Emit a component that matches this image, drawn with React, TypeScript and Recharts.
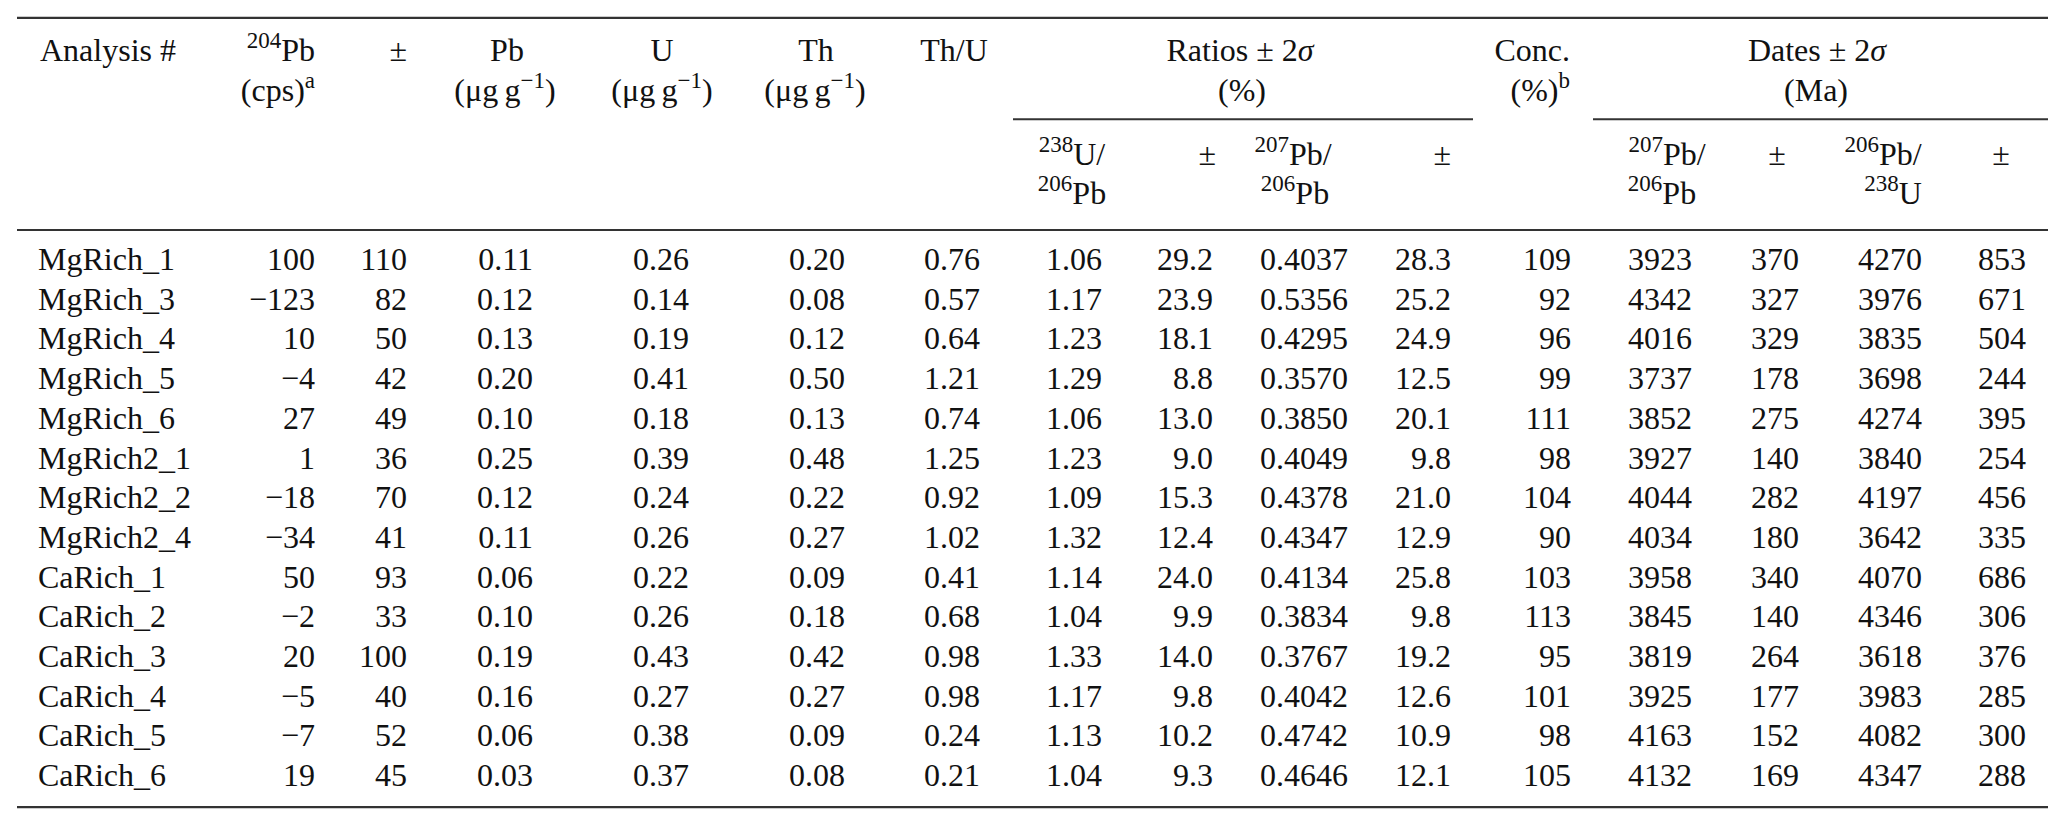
import { ScatterChart, Scatter, XAxis, YAxis, ReferenceLine } from 'recharts';

// table values, one list per column
const analyses = ['MgRich_1', 'MgRich_3', 'MgRich_4', 'MgRich_5', 'MgRich_6', 'MgRich2_1', 'MgRich2_2', 'MgRich2_4', 'CaRich_1', 'CaRich_2', 'CaRich_3', 'CaRich_4', 'CaRich_5', 'CaRich_6'];
const pb204Cps = [100, -123, 10, -4, 27, 1, -18, -34, 50, -2, 20, -5, -7, 19];
const pb204Err = [110, 82, 50, 42, 49, 36, 70, 41, 93, 33, 100, 40, 52, 45];
const pbConc = [0.11, 0.12, 0.13, 0.2, 0.1, 0.25, 0.12, 0.11, 0.06, 0.1, 0.19, 0.16, 0.06, 0.03];
const uConc = [0.26, 0.14, 0.19, 0.41, 0.18, 0.39, 0.24, 0.26, 0.22, 0.26, 0.43, 0.27, 0.38, 0.37];
const thConc = [0.2, 0.08, 0.12, 0.5, 0.13, 0.48, 0.22, 0.27, 0.09, 0.18, 0.42, 0.27, 0.09, 0.08];
const thU = [0.76, 0.57, 0.64, 1.21, 0.74, 1.25, 0.92, 1.02, 0.41, 0.68, 0.98, 0.98, 0.24, 0.21];
const u238Pb206 = [1.06, 1.17, 1.23, 1.29, 1.06, 1.23, 1.09, 1.32, 1.14, 1.04, 1.33, 1.17, 1.13, 1.04];
const u238Pb206Err = [29.2, 23.9, 18.1, 8.8, 13.0, 9.0, 15.3, 12.4, 24.0, 9.9, 14.0, 9.8, 10.2, 9.3];
const pb207Pb206 = [0.4037, 0.5356, 0.4295, 0.357, 0.385, 0.4049, 0.4378, 0.4347, 0.4134, 0.3834, 0.3767, 0.4042, 0.4742, 0.4646];
const pb207Pb206Err = [28.3, 25.2, 24.9, 12.5, 20.1, 9.8, 21.0, 12.9, 25.8, 9.8, 19.2, 12.6, 10.9, 12.1];
const concordance = [109, 92, 96, 99, 111, 98, 104, 90, 103, 113, 95, 101, 98, 105];
const date76 = [3923, 4342, 4016, 3737, 3852, 3927, 4044, 4034, 3958, 3845, 3819, 3925, 4163, 4132];
const date76Err = [370, 327, 329, 178, 275, 140, 282, 180, 340, 140, 264, 177, 152, 169];
const date68 = [4270, 3976, 3835, 3698, 4274, 3840, 4197, 3642, 4070, 4346, 3618, 3983, 4082, 4347];
const date68Err = [853, 671, 504, 244, 395, 254, 456, 335, 686, 306, 376, 285, 300, 288];

// layout
const W = 2067;
const H = 827;
const ROW_H = 39.7;
const FIRST_BASELINE = 270;
const Y_DOMAIN = [-FIRST_BASELINE / ROW_H, (H - FIRST_BASELINE) / ROW_H];
const FONT = '"Liberation Serif", "Times New Roman", serif';
const INK = '#111';
const RULE = '#333';

const L1 = -5.27;
const L2 = -4.26;
const L3 = -2.65;
const L4 = -1.67;

type Anchor = 'start' | 'middle' | 'end';

const columns: { values: (string | number)[]; x: number; anchor: Anchor; digits: number | null }[] = [
  { values: analyses, x: 38, anchor: 'start', digits: null },
  { values: pb204Cps, x: 315, anchor: 'end', digits: 0 },
  { values: pb204Err, x: 407, anchor: 'end', digits: 0 },
  { values: pbConc, x: 533, anchor: 'end', digits: 2 },
  { values: uConc, x: 689, anchor: 'end', digits: 2 },
  { values: thConc, x: 845, anchor: 'end', digits: 2 },
  { values: thU, x: 980, anchor: 'end', digits: 2 },
  { values: u238Pb206, x: 1102, anchor: 'end', digits: 2 },
  { values: u238Pb206Err, x: 1213, anchor: 'end', digits: 1 },
  { values: pb207Pb206, x: 1348, anchor: 'end', digits: 4 },
  { values: pb207Pb206Err, x: 1451, anchor: 'end', digits: 1 },
  { values: concordance, x: 1571, anchor: 'end', digits: 0 },
  { values: date76, x: 1692, anchor: 'end', digits: 0 },
  { values: date76Err, x: 1799, anchor: 'end', digits: 0 },
  { values: date68, x: 1922, anchor: 'end', digits: 0 },
  { values: date68Err, x: 2026, anchor: 'end', digits: 0 },
];

type Part = { t: string; sup?: boolean; it?: boolean };
const P = (t: string): Part => ({ t });
const S = (t: string): Part => ({ t, sup: true });
const I = (t: string): Part => ({ t, it: true });
const unit = [P('(μg\u2009g'), S('−1'), P(')')];

const headers: { x: number; y: number; anchor: Anchor; parts: Part[] }[] = [
  { x: 40, y: L1, anchor: 'start', parts: [P('Analysis #')] },
  { x: 315, y: L1, anchor: 'end', parts: [S('204'), P('Pb')] },
  { x: 315, y: L2, anchor: 'end', parts: [P('(cps)'), S('a')] },
  { x: 407, y: L1, anchor: 'end', parts: [P('±')] },
  { x: 507, y: L1, anchor: 'middle', parts: [P('Pb')] },
  { x: 505, y: L2, anchor: 'middle', parts: unit },
  { x: 662, y: L1, anchor: 'middle', parts: [P('U')] },
  { x: 662, y: L2, anchor: 'middle', parts: unit },
  { x: 816, y: L1, anchor: 'middle', parts: [P('Th')] },
  { x: 815, y: L2, anchor: 'middle', parts: unit },
  { x: 954, y: L1, anchor: 'middle', parts: [P('Th/U')] },
  { x: 1240, y: L1, anchor: 'middle', parts: [P('Ratios ± 2'), I('σ')] },
  { x: 1242, y: L2, anchor: 'middle', parts: [P('(%)')] },
  { x: 1570, y: L1, anchor: 'end', parts: [P('Conc.')] },
  { x: 1570, y: L2, anchor: 'end', parts: [P('(%)'), S('b')] },
  { x: 1817, y: L1, anchor: 'middle', parts: [P('Dates ± 2'), I('σ')] },
  { x: 1816, y: L2, anchor: 'middle', parts: [P('(Ma)')] },
  { x: 1072, y: L3, anchor: 'middle', parts: [S('238'), P('U/')] },
  { x: 1072, y: L4, anchor: 'middle', parts: [S('206'), P('Pb')] },
  { x: 1216, y: L3, anchor: 'end', parts: [P('±')] },
  { x: 1293, y: L3, anchor: 'middle', parts: [S('207'), P('Pb/')] },
  { x: 1295, y: L4, anchor: 'middle', parts: [S('206'), P('Pb')] },
  { x: 1451, y: L3, anchor: 'end', parts: [P('±')] },
  { x: 1667, y: L3, anchor: 'middle', parts: [S('207'), P('Pb/')] },
  { x: 1662, y: L4, anchor: 'middle', parts: [S('206'), P('Pb')] },
  { x: 1777, y: L3, anchor: 'middle', parts: [P('±')] },
  { x: 1883, y: L3, anchor: 'middle', parts: [S('206'), P('Pb/')] },
  { x: 1893, y: L4, anchor: 'middle', parts: [S('238'), P('U')] },
  { x: 2001, y: L3, anchor: 'middle', parts: [P('±')] },
];

const rules = [
  { y: -6.35, x1: 17, x2: 2048, w: 2.4 },
  { y: -3.8, x1: 1013, x2: 1473, w: 2 },
  { y: -3.8, x1: 1593, x2: 2048, w: 2 },
  { y: -1.01, x1: 17, x2: 2048, w: 2 },
  { y: 13.53, x1: 17, x2: 2048, w: 2.4 },
];

const fmt = (v: string | number, digits: number | null) =>
  typeof v === 'string' || digits === null ? String(v) : v.toFixed(digits).replace('-', '−');

const renderCell = (props: any) => {
  const { cx, cy, payload } = props;
  return (
    <text x={cx} y={cy} textAnchor={payload.anchor} fontFamily={FONT} fontSize={32} fill={INK}>
      {payload.label}
    </text>
  );
};

const renderHeader = (props: any) => {
  const { cx, cy, payload } = props;
  let raised = false;
  return (
    <text x={cx} y={cy} textAnchor={payload.anchor} fontFamily={FONT} fontSize={32} fill={INK}>
      {payload.parts.map((p: Part, i: number) => {
        let dy = 0;
        if (p.sup && !raised) { dy = -13; raised = true; }
        else if (!p.sup && raised) { dy = 13; raised = false; }
        return (
          <tspan key={i} dy={dy} fontSize={p.sup ? 23 : 32} fontStyle={p.it ? 'italic' : 'normal'}>
            {p.t}
          </tspan>
        );
      })}
    </text>
  );
};

export default function App() {
  const headerData = headers.map((h) => ({ x: h.x, y: h.y, anchor: h.anchor, parts: h.parts }));
  return (
    <div style={{ position: 'absolute', left: 0, top: 0, width: W, height: H, background: '#fff' }}>
      <ScatterChart width={W} height={H} margin={{ top: 0, right: 0, bottom: 0, left: 0 }}>
        <XAxis type="number" dataKey="x" domain={[0, W]} allowDataOverflow hide height={0} />
        <YAxis type="number" dataKey="y" domain={Y_DOMAIN} allowDataOverflow reversed hide width={0} />
        {rules.map((r, i) => (
          <ReferenceLine
            key={`rule-${i}`}
            segment={[{ x: r.x1, y: r.y }, { x: r.x2, y: r.y }]}
            stroke={RULE}
            strokeWidth={r.w}
          />
        ))}
        <Scatter data={headerData} shape={renderHeader} isAnimationActive={false} />
        {columns.map((c, ci) => (
          <Scatter
            key={`col-${ci}`}
            data={c.values.map((v, i) => ({ x: c.x, y: i, anchor: c.anchor, label: fmt(v, c.digits) }))}
            shape={renderCell}
            isAnimationActive={false}
          />
        ))}
      </ScatterChart>
    </div>
  );
}
